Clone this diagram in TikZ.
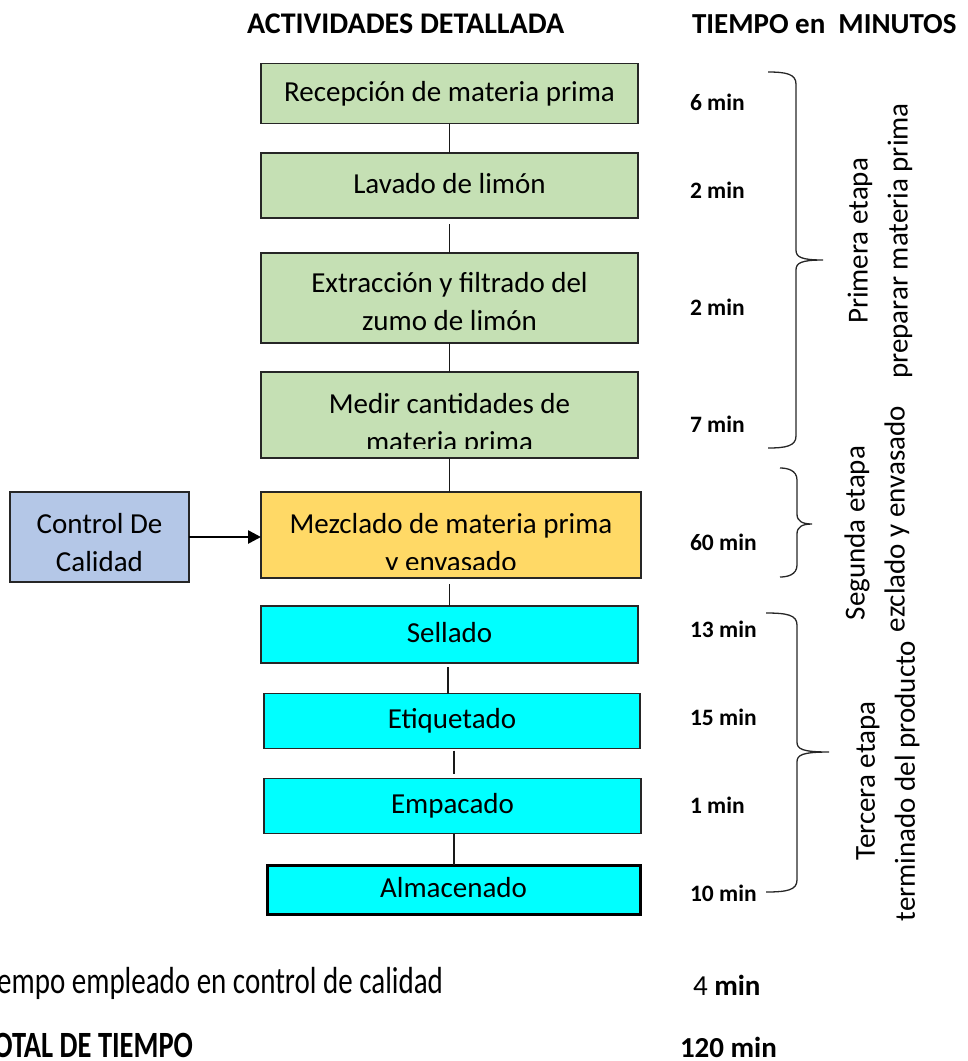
\documentclass[tikz,border=0pt]{standalone}
\usepackage{graphicx}
\usepackage{fontspec}
\setmainfont{Carlito}
\usetikzlibrary{arrows.meta}
\definecolor{boxgreen}{RGB}{197,224,180}
\definecolor{boxgold}{RGB}{255,217,102}
\definecolor{boxblue}{RGB}{180,199,231}
\definecolor{boxcyan}{RGB}{0,255,255}

% right curly brace: tip x, top y, spine x, middle tip x, middle y, bottom y
\newcommand{\wordbrace}[6]{%
  \draw[bracestyle] (#1,#2) .. controls (#3-10,#2) and (#3,#2+2) .. (#3,#2+12)
    -- (#3,#5-10) .. controls (#3,#5-3) and (#3+5,#5) .. (#4,#5)
    .. controls (#3+5,#5) and (#3,#5+3) .. (#3,#5+10)
    -- (#3,#6-12) .. controls (#3,#6-2) and (#3-10,#6) .. (#1,#6);}
% summary lines are set taller than wide
\newcommand{\tallline}[1]{\scalebox{1}[1.3]{#1}}

\begin{document}
\begin{tikzpicture}[x=1pt,y=-1pt,
  every node/.style={inner sep=0pt, outer sep=0pt},
  body/.style={font=\fontsize{29}{38}\selectfont},
  boldtext/.style={font=\fontsize{29}{38}\selectfont\bfseries},
  timelbl/.style={font=\fontsize{23.5}{28}\selectfont\bfseries, anchor=base west},
  stagelbl/.style={font=\fontsize{29}{40}\selectfont, rotate=90, align=center},
  stepbox/.style={draw=black!85, line width=1.3pt, body, text height=20pt, text depth=5pt},
  greenbox/.style={stepbox, fill=boxgreen, minimum width=377pt},
  cyanbox/.style={stepbox, fill=boxcyan},
  conn/.style={draw=black!90, line width=1.3pt},
  feed/.style={line width=2.6pt, -{Triangle[length=13pt,width=13pt]}},
  bracestyle/.style={line width=1.3pt, black!85},
  innertext/.style n args={4}{path picture={
      \clip ([yshift=#4]path picture bounding box.south west) rectangle (path picture bounding box.north east);
      \node[body, align=center, text height=, text depth=] (#1)
        at ([yshift=#3]path picture bounding box.center) {#2};}}
]
\clip (0,0) rectangle (968,1061);

% column headers
\node[font=\fontsize{30}{36}\selectfont\bfseries, anchor=base west] (hact) at (247,33) {ACTIVIDADES DETALLADA};
\node[boldtext, anchor=base west] (htime) at (692,33) {TIEMPO en\ \ MINUTOS};

% process steps
\node[greenbox, minimum height=60pt] (b1) at (449.5,93.5) {Recepción de materia prima};
\node[greenbox, minimum height=65pt] (b2) at (449.5,185.5) {Lavado de limón};
\node[greenbox, minimum height=90pt,
      innertext={t3}{Extracción y filtrado del\\zumo de limón}{-4pt}{1pt}] (b3) at (449.5,298) {};
\node[greenbox, minimum height=86pt,
      innertext={t4}{Medir cantidades de\\materia prima}{-10pt}{10pt}] (b4) at (449.5,415) {};
\node[stepbox, fill=boxgold, minimum width=380pt, minimum height=86pt,
      innertext={t5}{Mezclado de materia prima\\y envasado}{-10pt}{9pt}] (b5) at (451,535) {};
\node[stepbox, fill=boxblue, minimum width=179pt, minimum height=90pt,
      innertext={t6}{Control De\\Calidad}{-5.5pt}{1pt}] (qc) at (99.5,537) {};

\node[cyanbox, minimum width=377pt, minimum height=57pt] (s1) at (449.5,634.5) {Sellado};
\node[cyanbox, minimum width=376pt, minimum height=55pt] (s2) at (452,721) {Etiquetado};
\node[cyanbox, minimum width=377pt, minimum height=55pt] (s3) at (452.5,806) {Empacado};
\node[cyanbox, minimum width=373pt, minimum height=49pt, line width=3pt, draw=black] (s4) at (453.5,889.5) {Almacenado};

% connectors
\draw[conn] (b1) -- (b2);
\draw[conn, shorten <=6pt] (b2) -- (b3);
\draw[conn] (b3) -- (b4);
\draw[conn] (b4.south) -- (b4.south |- b5.north);
\draw[conn, shorten <=6pt] (s1.north |- b5.south) -- (s1.north);
\draw[conn, shorten <=4pt] ([xshift=-1.5pt]s1.south) -- ([xshift=-1.5pt]s1.south |- s2.north);
\draw[conn, shorten <=2pt, shorten >=5pt] ([xshift=2pt]s2.south) -- ([xshift=2pt]s2.south |- s3.north);
\draw[conn] ([xshift=1.5pt]s3.south) -- ([xshift=1.5pt]s3.south |- s4.north);
\draw[feed] (qc.east) -- (qc.east -| b5.west);

% times
\node[timelbl] (m1) at (690,110) {6 min};
\node[timelbl] (m2) at (690,198) {2 min};
\node[timelbl] (m3) at (690,315) {2 min};
\node[timelbl] (m4) at (690,432) {7 min};
\node[timelbl] (m5) at (690,550) {60 min};
\node[timelbl] (m6) at (690,637) {13 min};
\node[timelbl] (m7) at (690,725) {15 min};
\node[timelbl] (m8) at (690,813) {1 min};
\node[timelbl] (m9) at (690,901) {10 min};

% stage braces
\wordbrace{768}{72}{796}{823}{260}{448}
\wordbrace{780}{468}{797}{812}{524}{577}
\wordbrace{766}{613}{797}{829}{752}{892}

% stage names
\node[stagelbl] (st1) at (880,241) {Primera etapa\\preparar materia prima};
\node[stagelbl] (st2a) at (857,533) {Segunda etapa};
\node[stagelbl] (st2b) at (897,519) {ezclado y envasado};
\node[stagelbl] (st3) at (888,781) {Tercera etapa\\terminado del producto};

% totals
\node[body, anchor=base east] (qctime) at (443,993) {\tallline{Tiempo empleado en control de calidad}};
\node[body, anchor=base west] (qcmin) at (693,995) {4 \textbf{min}};
\node[font=\fontsize{28.5}{34}\selectfont\bfseries, anchor=base east] (tot) at (193,1057) {\tallline{TOTAL DE TIEMPO}};
\node[boldtext, anchor=base west] (totmin) at (680,1057) {120 min};
\end{tikzpicture}
\end{document}
